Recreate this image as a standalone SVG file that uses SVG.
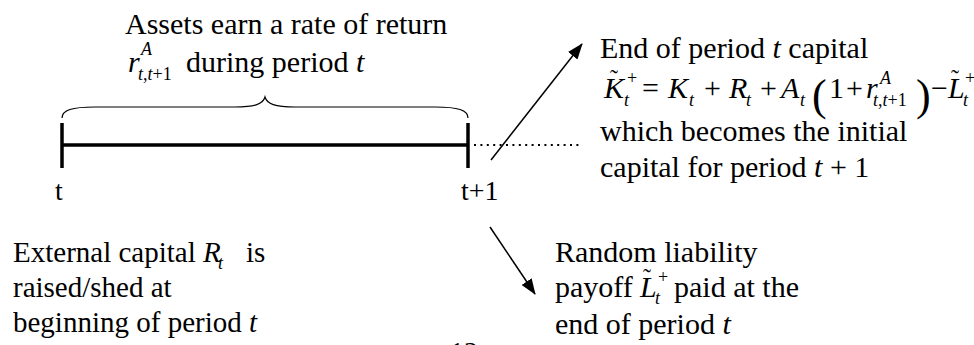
<svg xmlns="http://www.w3.org/2000/svg" width="974" height="345" viewBox="0 0 974 345">
<style>
  text { font-family: "Liberation Serif", "DejaVu Serif", serif; fill: #000; }
  .t30 { font-size: 30px; }
  .t29 { font-size: 29px; }
  .t28 { font-size: 28px; }
  .it { font-style: italic; }
  .sm { font-size: 18px; font-style: italic; }
  .smr { font-size: 18px; }
  .tl { font-size: 24px; }
  .par { font-size: 44px; }
  .axis { stroke: #000; stroke-width: 3.5; fill: none; }
  .thin { stroke: #000; stroke-width: 1.5; fill: none; }
  .dots { stroke: #000; stroke-width: 2.2; stroke-dasharray: 2 4.4; fill: none; }
  .brace { stroke: #000; stroke-width: 1.2; fill: none; }
</style>
<defs>
  <marker id="ah" viewBox="0 0 16 12" refX="15" refY="6" markerUnits="userSpaceOnUse" markerWidth="16" markerHeight="12" orient="auto">
    <path d="M0,0 L16,6 L0,12 z" fill="#000"/>
  </marker>
</defs>
<rect width="974" height="345" fill="#fff"/>

<g id="timeline">
  <line class="axis" x1="62" y1="145" x2="468" y2="145"/>
  <line class="axis" x1="62" y1="123" x2="62" y2="168"/>
  <line class="axis" x1="468" y1="123" x2="468" y2="168"/>
  <text class="t28" x="55" y="200">t</text>
  <text class="t28" x="461" y="200">t+1</text>
</g>

<g id="brace">
  <path class="brace" d="M62,118 C62,110 72,107 95,107 L235,107 C255,107 263,104 265,97 C267,104 275,107 295,107 L435,107 C458,107 468,110 468,118"/>
</g>

<g id="label-assets">
  <text class="t30" x="125" y="34">Assets earn a rate of return</text>
  <text class="t30 it" x="128" y="72">r</text>
  <text class="sm" x="141" y="55">A</text>
  <text class="smr" x="138" y="80"><tspan class="it">t</tspan>,<tspan class="it">t</tspan>+1</text>
  <text class="t30" x="186" y="72">during period <tspan class="it">t</tspan></text>
</g>

<g id="label-end-capital">
  <text class="t30" x="600" y="58">End of period <tspan class="it">t</tspan> capital</text>
  <text class="t30 it" x="604" y="98">K</text>
  <text class="tl" x="610" y="86">˜</text>
  <text class="smr" x="627" y="84">+</text>
  <text class="sm" x="624" y="106">t</text>
  <text class="t30" x="642" y="98">=</text>
  <text class="t30 it" x="668" y="98">K</text>
  <text class="sm" x="689" y="106">t</text>
  <text class="t30" x="704" y="98">+</text>
  <text class="t30 it" x="729" y="98">R</text>
  <text class="sm" x="746" y="106">t</text>
  <text class="t30" x="760" y="98">+</text>
  <text class="t30 it" x="781" y="98">A</text>
  <text class="sm" x="800" y="106">t</text>
  <text class="par" x="812" y="110">(</text>
  <text class="t30" x="829" y="98">1</text>
  <text class="t30" x="846" y="98">+</text>
  <text class="t30 it" x="866" y="98">r</text>
  <text class="sm" x="880" y="84">A</text>
  <text class="smr" x="873" y="106"><tspan class="it">t</tspan>,<tspan class="it">t</tspan>+1</text>
  <text class="par" x="916" y="110">)</text>
  <text class="t30" x="931" y="98">−</text>
  <text class="t30 it" x="948" y="98">L</text>
  <text class="tl" x="951" y="86">˜</text>
  <text class="sm" x="963" y="106">t</text>
  <text class="smr" x="965" y="84">+</text>
  <text class="t30" x="600" y="141">which becomes the initial</text>
  <text class="t30" x="600" y="177">capital for period <tspan class="it">t</tspan> + 1</text>
</g>

<g id="label-external">
  <text class="t29" x="13" y="262">External capital <tspan class="it">R</tspan></text>
  <text class="sm" x="218" y="269">t</text>
  <text class="t29" x="246" y="262">is</text>
  <text class="t29" x="13" y="297">raised/shed at</text>
  <text class="t29" x="13" y="332">beginning of period <tspan class="it">t</tspan></text>
</g>

<g id="label-liability">
  <text class="t30" x="555" y="262">Random liability</text>
  <text class="t30" x="555" y="297">payoff</text>
  <text class="t30 it" x="640" y="297">L</text>
  <text class="tl" x="643" y="285">˜</text>
  <text class="sm" x="655" y="304">t</text>
  <text class="smr" x="658" y="283">+</text>
  <text class="t30" x="674" y="297">paid at the</text>
  <text class="t30" x="555" y="334">end of period <tspan class="it">t</tspan></text>
</g>

<g id="page-number">
  <text class="t28" x="450" y="361">12</text>
</g>

<g id="connectors">
  <line class="dots" x1="474" y1="145" x2="580" y2="145"/>
  <line class="thin" x1="491" y1="160" x2="582" y2="44" marker-end="url(#ah)"/>
  <line class="thin" x1="490" y1="227" x2="535" y2="294" marker-end="url(#ah)"/>
</g>
</svg>
